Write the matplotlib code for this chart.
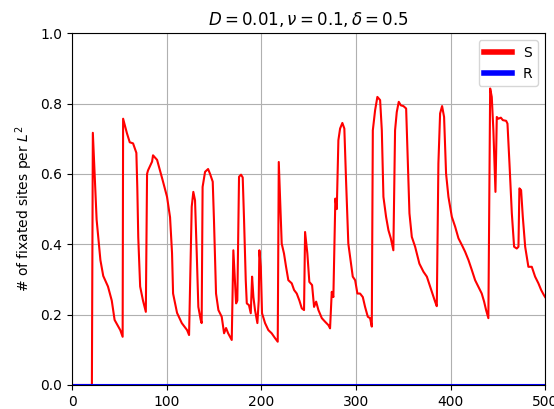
import matplotlib
matplotlib.use("Agg")
import matplotlib.pyplot as plt
from matplotlib.lines import Line2D

# time steps and fixated-site fraction for species S
t_S = [0, 21, 22, 26, 30, 33, 38, 42, 45, 51, 53.5,
       54, 58, 61, 64.5, 68, 69, 70, 72, 75, 78,
       79.3, 80.3, 84.6, 85.6, 89.9, 93, 96, 100.4, 103.6, 105.7, 106.8, 111, 116, 121.6, 123.7,
       126.5, 128.2, 130, 131.8, 133.5, 136, 137,
       138, 139.5, 140.6, 143.8, 145.9, 148.7, 150, 152.2, 154.7, 158.2, 160.7, 162.8, 165, 168.8,
       170.5, 173.4, 174.7,
       176.5, 178.6, 180.4, 181.8, 183.6, 184.7, 187, 188.9,
       190.3, 191.7, 193.4, 195.9, 197.3,
       198, 199.5, 200.8, 204, 207.5, 211, 214.6, 217.4,
       218.5, 221.6, 224, 226.2, 228.6, 232.2, 234.7, 237.5, 240.3, 242.8, 245.2,
       246.3, 248.7, 250.8, 253.7, 255.8, 258, 260.4, 264, 267.4, 271, 272.7,
       274.5, 276.2,
       278.3, 279.8, 281.5, 283.3, 285.7, 287.8, 289.6, 292, 293.9, 296.7, 299.2, 301.6, 304.4,
       307.3, 309.7, 312.6, 315, 316.8,
       317.9, 320.3, 322.7, 325.6, 327.4, 329.1, 331.9, 334.4, 336.9, 339.6,
       341.4, 343.2, 345.3, 347.5, 350.2, 353.1, 354.4, 356.6, 359.1, 362.6, 364.4, 367.1,
       371.4, 375, 378.4, 383.7, 385.5,
       387.2, 389, 391.1, 393.2, 395.3, 397.8, 401.4, 404.9, 408.4, 412, 415.4, 419, 422.5,
       426, 429.5, 433, 435.5, 437.6, 440,
       441.9, 443.6, 445.3, 447.5, 448.9, 450.6, 453.2, 455.3, 458.8, 460.2, 462.3, 464.8,
       467.2, 470, 471.8,
       472.8, 474.6, 476.4, 478.9, 482.3, 485.9, 489.4, 492.9, 495.8, 498.6, 500]
S = [0, 0, 0.717, 0.47, 0.355, 0.31, 0.28, 0.24, 0.185, 0.156, 0.137,
     0.757, 0.716, 0.69, 0.687, 0.66, 0.56, 0.42, 0.28, 0.24, 0.208,
     0.60, 0.61, 0.635, 0.653, 0.64, 0.61, 0.58, 0.535, 0.477, 0.375, 0.26, 0.205, 0.176, 0.156, 0.142,
     0.507, 0.549, 0.525, 0.375, 0.222, 0.185, 0.176,
     0.563, 0.588, 0.606, 0.614, 0.60, 0.578, 0.47, 0.26, 0.213, 0.194, 0.147, 0.162, 0.147, 0.128,
     0.383, 0.232, 0.24,
     0.592, 0.598, 0.59, 0.47, 0.298, 0.232, 0.227, 0.204,
     0.308, 0.25, 0.213, 0.176, 0.24,
     0.383, 0.336, 0.204, 0.176, 0.156, 0.147, 0.133, 0.123,
     0.634, 0.402, 0.374, 0.336, 0.298, 0.289, 0.27, 0.26, 0.24, 0.218, 0.213,
     0.435, 0.374, 0.293, 0.284, 0.222, 0.237, 0.213, 0.19, 0.18, 0.17, 0.161,
     0.265, 0.25,
     0.53, 0.50, 0.696, 0.729, 0.745, 0.729, 0.582, 0.402, 0.364, 0.308, 0.298, 0.26, 0.26,
     0.25, 0.222, 0.194, 0.19, 0.166,
     0.724, 0.781, 0.819, 0.81, 0.724, 0.535, 0.478, 0.44, 0.417, 0.383,
     0.724, 0.776, 0.805, 0.795, 0.793, 0.786, 0.677, 0.488, 0.421, 0.393, 0.374, 0.345,
     0.322, 0.308, 0.28, 0.237, 0.224,
     0.63, 0.772, 0.793, 0.762, 0.601, 0.535, 0.478, 0.45, 0.417, 0.398, 0.379, 0.355, 0.327,
     0.298, 0.279, 0.26, 0.237, 0.213, 0.19,
     0.843, 0.819, 0.724, 0.549, 0.762, 0.757, 0.76, 0.753, 0.751, 0.743, 0.63, 0.488,
     0.393, 0.388, 0.393,
     0.559, 0.554, 0.478, 0.393, 0.336, 0.336, 0.308, 0.289, 0.27, 0.256, 0.25]

# species R never fixates
t_R = [0, 500]
R = [0, 0]

fig = plt.figure(figsize=(5.54, 4.09), dpi=100)
ax = fig.add_axes([0.130, 0.0587, 0.854, 0.860])

ax.plot(t_S, S, color="red", lw=1.5, label="S")
ax.plot(t_R, R, color="blue", lw=1.5, label="R")

ax.set_xlim(0, 500)
ax.set_ylim(0, 1.0)
ax.grid(True)
ax.set_title(r"$D = 0.01, \nu = 0.1, \delta = 0.5$")
ax.set_ylabel(r"# of fixated sites per $L^2$")

handles = [Line2D([], [], color="red", lw=4), Line2D([], [], color="blue", lw=4)]
ax.legend(handles, ["S", "R"], loc="upper right")

fig.savefig("out.png", dpi=100)
